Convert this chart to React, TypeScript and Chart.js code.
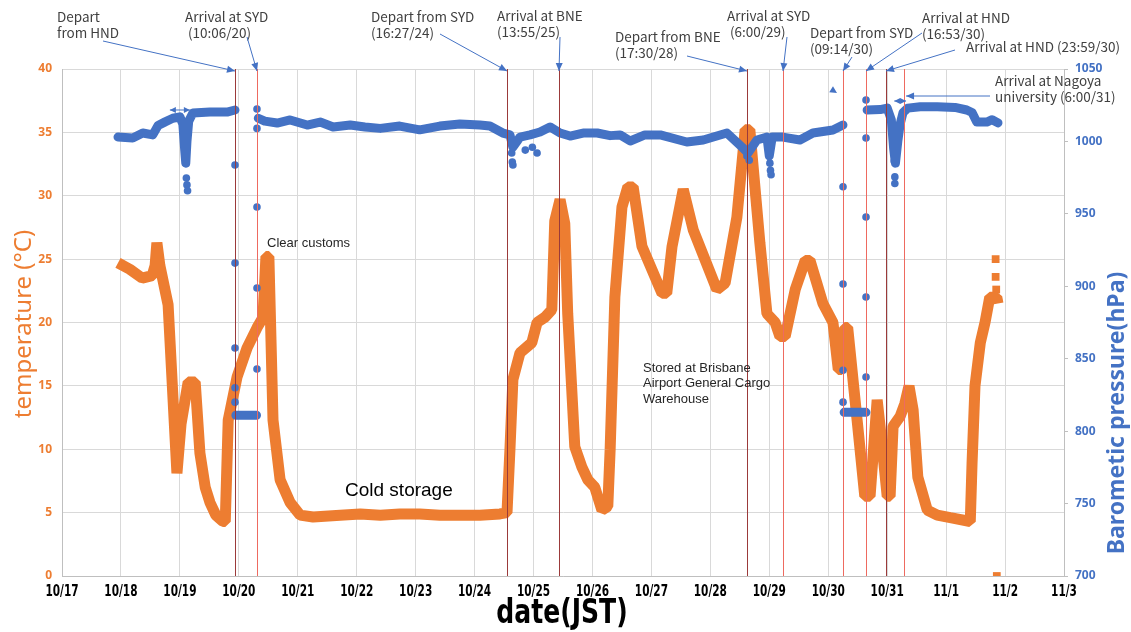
import React, { useEffect, useRef } from "react";
import { Chart, registerables } from "chart.js";

Chart.register(...registerables);

// ---------- data ----------
const dateLabels = [
  "10/17", "10/18", "10/19", "10/20", "10/21", "10/22", "10/23", "10/24", "10/25",
  "10/26", "10/27", "10/28", "10/29", "10/30", "10/31", "11/1", "11/2", "11/3",
];

// days since 10/17 00:00 (JST)
const tempDays = [
  0.95, 1.15, 1.36, 1.53, 1.58, 1.61, 1.66, 1.8, 1.95, 2.02, 2.14, 2.26, 2.34, 2.43, 2.51,
  2.61, 2.73, 2.77, 2.82, 2.97, 3.14, 3.31, 3.41, 3.46, 3.51, 3.58, 3.7, 3.87, 4.04, 4.26,
  4.72, 5.06, 5.4, 5.73, 6.07, 6.41, 6.75, 7.09, 7.43, 7.55, 7.6, 7.65, 7.77, 7.97, 8.06,
  8.19, 8.31, 8.36, 8.45, 8.53, 8.58, 8.7, 8.82, 8.92, 9.04, 9.16, 9.26, 9.3, 9.38, 9.5,
  9.6, 9.69, 9.84, 10.18, 10.26, 10.35, 10.54, 10.71, 11.11, 11.25, 11.45, 11.59, 11.67,
  11.84, 11.96, 12.1, 12.18, 12.27, 12.44, 12.61, 12.69, 12.91, 13.08, 13.17, 13.23, 13.28,
  13.33, 13.49, 13.62, 13.71, 13.83, 13.91, 14.0, 14.05, 14.1, 14.22, 14.3, 14.37, 14.44,
  14.52, 14.68, 14.85, 15.07, 15.41, 15.44, 15.49, 15.58, 15.66, 15.74, 15.86, 15.88,
];
const tempValues = [
  24.7, 24.2, 23.5, 23.7, 24.5, 26.3, 24.5, 21.4, 8.1, 12, 15.3, 15.3, 9.7, 7, 5.8,
  4.8, 4.3, 4.3, 12.3, 15.7, 18, 19.6, 20.4, 25.2, 25.2, 12.3, 7.6, 5.8, 4.8, 4.65,
  4.8, 4.9, 4.8, 4.9, 4.9, 4.8, 4.8, 4.8, 4.9, 5, 10, 15.5, 17.6, 18.4, 20,
  20.4, 21, 28, 29.7, 27.8, 20.7, 10.2, 8.6, 7.6, 7, 5.2, 5.5, 10, 22, 29.1,
  30.7, 30.7, 26, 22.3, 22.3, 26, 30.5, 27.3, 22.6, 23.1, 28.3, 35.2, 35.2,
  26.3, 20.7, 20, 18.9, 18.9, 22.6, 24.9, 24.9, 21.5, 20, 16.3, 16.3, 19.6,
  19.6, 12.3, 6.3, 6.3, 13.9, 10.5, 6.3, 6.3, 11.8, 12.6, 13.6, 15, 13.1,
  7.8, 5.2, 4.8, 4.6, 4.3, 8.9, 15, 18.4, 20, 22, 22, 21.5,
];
const tempExtraDays = [15.84, 15.84, 15.85, 15.86];
const tempExtraValues = [25, 23.6, 22.6, 0];

// continuous pressure trace (null = break in the trace)
const pressureDays = [
  0.95, 1.2, 1.37, 1.54, 1.63, 1.75, 1.88, 2.0, 2.05, 2.08, 2.1, 2.12, 2.15, 2.22, 2.51, 2.8, 2.935,
  2.94,
  2.95, 3.3,
  3.31,
  3.33, 3.44, 3.65, 3.87, 4.16, 4.38, 4.6, 4.89, 5.14, 5.4, 5.73, 6.07, 6.41, 6.75, 7.09, 7.26,
  7.48, 7.6, 7.65, 7.72, 7.77, 7.94, 8.11, 8.28, 8.45, 8.62, 8.84, 9.08, 9.3, 9.47, 9.64, 9.89,
  10.15, 10.6, 10.88, 11.28, 11.54, 11.64, 11.79, 11.96, 12.0, 12.05, 12.23, 12.52, 12.74, 13.08, 13.25,
  13.26,
  13.27, 13.64,
  13.65,
  13.66, 13.88, 14.0, 14.07, 14.11, 14.14, 14.18, 14.22, 14.27, 14.35, 14.56, 14.85, 15.15, 15.35,
  15.44, 15.52, 15.69, 15.78, 15.88,
];
const pressureValues = [
  1003, 1002.4, 1005.8, 1004.5, 1011, 1013.5, 1016, 1017, 1012, 995, 985, 1000, 1014, 1019.6, 1020.3, 1020.3, 1021.7,
  null,
  811, 811,
  null,
  1016, 1014, 1012.7, 1014.8, 1011.3, 1013.4, 1010, 1011.3, 1010, 1009, 1010.6, 1008, 1010.6, 1012, 1011.3, 1010.6,
  1005.8, 1004.5, 996, 1000, 1003, 1004.5, 1006.5, 1010, 1005.8, 1003.7, 1005.8, 1005.8, 1004, 1004.5, 1000.3, 1004.5,
  1004.5, 999.6, 1001, 1005.8, 996, 992, 1001, 1003, 990, 1003, 1003, 1001, 1005.8, 1007.9, 1011.3,
  null,
  813, 813,
  null,
  1021.7, 1022, 1023, 1015, 995, 985, 1000, 1012, 1020, 1023, 1024, 1024, 1023.5, 1021.7,
  1020, 1013.4, 1013.4, 1015, 1012.8,
];

// isolated pressure readings
const pressureDotDays = [
  2.09, 2.1, 2.11, 2.12, 2.13,
  2.935, 2.935, 2.935, 2.935, 2.935,
  3.308, 3.308, 3.308, 3.308, 3.308,
  7.63, 7.64, 7.65, 7.86, 7.98, 8.06,
  11.62, 11.66, 12.01, 12.02, 12.03,
  13.251, 13.251, 13.251, 13.251,
  13.641, 13.641, 13.641, 13.641, 13.641,
  14.12, 14.13, 14.13,
];
const pressureDotValues = [
  989, 985, 974.7, 970, 966,
  983.7, 916, 857.4, 830, 820,
  1022.4, 1009, 954.7, 898.8, 842.9,
  992, 985.8, 983.7, 994, 996, 992,
  990, 987, 985, 980, 977,
  968.7, 901.6, 842, 820,
  1028.6, 1002.4, 947.8, 892.6, 837.4,
  986.5, 975.5, 971,
];

// flight events (days since 10/17 00:00)
const eventDays = [2.935, 3.308, 7.55, 8.432, 11.622, 12.233, 13.251, 13.641, 13.98, 14.286];
const eventLabels = [
  ["Depart", "from HND"],
  ["Arrival at SYD", " (10:06/20)"],
  ["Depart from SYD", "(16:27/24)"],
  ["Arrival at BNE", "(13:55/25)"],
  ["Depart from BNE", "(17:30/28)"],
  ["Arrival at SYD", " (6:00/29)"],
  ["Depart from SYD", "(09:14/30)"],
  ["Arrival at HND", "(16:53/30)"],
  ["Arrival at HND (23:59/30)"],
  ["Arrival at Nagoya", "university (6:00/31)"],
];

// ---------- styles / layout ----------
const ORANGE = "#ED7D31";
const BLUE = "#4472C4";
const GRID = "#D9D9D9";
const eventTone = ["dark", "light", "dark", "dark", "dark", "light", "light", "light", "dark", "light"];
const labelPos = [
  [57, 17], [185, 17], [371, 17], [497, 16], [615, 37],
  [727, 16], [810, 33], [922, 18], [966, 47], [995, 81],
];
const arrowStart = [
  [103, 41], [247, 37], [440, 34], [560, 37], [687, 56],
  [787, 37], [852, 57], [922, 33], [955, 50], [990, 96],
];
const NARROW = '"Liberation Sans Narrow", "DejaVu Sans Condensed", "Arial Narrow", sans-serif';

function arrowHead(ctx: CanvasRenderingContext2D, x0: number, y0: number, x1: number, y1: number, len = 8, half = 3.5) {
  const a = Math.atan2(y1 - y0, x1 - x0);
  ctx.beginPath();
  ctx.moveTo(x1, y1);
  ctx.lineTo(x1 - len * Math.cos(a) + half * Math.sin(a), y1 - len * Math.sin(a) - half * Math.cos(a));
  ctx.lineTo(x1 - len * Math.cos(a) - half * Math.sin(a), y1 - len * Math.sin(a) + half * Math.cos(a));
  ctx.closePath();
  ctx.fill();
}

function arrow(ctx: CanvasRenderingContext2D, x0: number, y0: number, x1: number, y1: number) {
  ctx.beginPath();
  ctx.moveTo(x0, y0);
  ctx.lineTo(x1, y1);
  ctx.stroke();
  arrowHead(ctx, x0, y0, x1, y1);
}

function narrowText(ctx: CanvasRenderingContext2D, text: string, x: number, y: number, sx: number) {
  ctx.save();
  ctx.translate(x, y);
  ctx.scale(sx, 1);
  ctx.fillText(text, 0, 0);
  ctx.restore();
}

const overlay = {
  id: "overlay",
  afterDatasetsDraw(chart: any) {
    const { ctx, chartArea, scales } = chart;
    const xs = scales.x;
    const yp = scales.y1;
    ctx.save();
    // event lines
    eventDays.forEach((d, i) => {
      const px = Math.round(xs.getPixelForValue(d)) + 0.5;
      ctx.strokeStyle = eventTone[i] === "dark" ? "#9B3A3A" : "#EE6A60";
      ctx.lineWidth = 1;
      ctx.beginPath();
      ctx.moveTo(px, chartArea.top);
      ctx.lineTo(px, chartArea.bottom);
      ctx.stroke();
    });
    // small double arrows marking short intervals
    ctx.strokeStyle = BLUE;
    ctx.fillStyle = BLUE;
    ctx.lineWidth = 1;
    const dbl = [[1.83, 2.17, 1021.7], [14.12, 14.32, 1027.9]];
    dbl.forEach(([a, b, p]) => {
      const x0 = xs.getPixelForValue(a), x1 = xs.getPixelForValue(b), y = yp.getPixelForValue(p);
      ctx.beginPath();
      ctx.moveTo(x0, y);
      ctx.lineTo(x1, y);
      ctx.stroke();
      arrowHead(ctx, x1, y, x0, y, 6, 3);
      arrowHead(ctx, x0, y, x1, y, 6, 3);
    });
    ctx.restore();
  },
  afterDraw(chart: any) {
    const { ctx, chartArea, scales } = chart;
    const xs = scales.x;
    ctx.save();
    // x tick labels (condensed)
    ctx.fillStyle = "#000";
    ctx.textAlign = "center";
    ctx.textBaseline = "middle";
    ctx.font = "bold 15px " + NARROW;
    dateLabels.forEach((t, i) => narrowText(ctx, t, xs.getPixelForValue(i), chartArea.bottom + 16, 0.78));

    // event annotations
    ctx.font = '13.5px "Noto Sans CJK JP", "Noto Sans", sans-serif';
    ctx.fillStyle = "#404040";
    ctx.textBaseline = "middle";
    ctx.textAlign = "left";
    eventLabels.forEach((lines, i) => {
      const [lx, ly] = labelPos[i];
      lines.forEach((t, j) => ctx.fillText(t, lx, ly + j * 15.5));
    });
    ctx.strokeStyle = BLUE;
    ctx.fillStyle = BLUE;
    ctx.lineWidth = 1;
    eventDays.forEach((d, i) => {
      const [sx, sy] = arrowStart[i];
      const tx = xs.getPixelForValue(d);
      const ty = i === 9 ? sy : chartArea.top + 2;
      arrow(ctx, sx, sy, tx + (i === 9 ? 2 : 0), ty);
    });
    // stray arrowhead
    arrowHead(ctx, 826, 86, 837, 93, 7, 3.5);

    // free texts
    ctx.fillStyle = "#262626";
    ctx.font = '13px "Liberation Sans", Arial, sans-serif';
    ctx.fillText("Clear customs", 267, 243);
    ctx.fillText("Stored at Brisbane", 643, 368);
    ctx.fillText("Airport General Cargo", 643, 383.5);
    ctx.fillText("Warehouse", 643, 399);
    ctx.fillStyle = "#000";
    ctx.font = '19px "Liberation Sans", Arial, sans-serif';
    ctx.fillText("Cold storage", 345, 491);

    // axis titles
    ctx.textAlign = "center";
    ctx.fillStyle = ORANGE;
    ctx.font = '24px "Noto Sans", sans-serif';
    ctx.save();
    ctx.translate(24, 324);
    ctx.rotate(-Math.PI / 2);
    ctx.fillText("temperature (°C)", 0, 0);
    ctx.restore();
    ctx.fillStyle = BLUE;
    ctx.font = 'bold 23px "Noto Sans", sans-serif';
    ctx.save();
    ctx.translate(1117, 413);
    ctx.rotate(-Math.PI / 2);
    ctx.fillText("Barometic pressure(hPa)", 0, 0);
    ctx.restore();
    ctx.fillStyle = "#000";
    ctx.font = "bold 34px " + NARROW;
    narrowText(ctx, "date(JST)", 562, 614, 0.82);
    ctx.restore();
  },
};

export default function App() {
  const ref = useRef<HTMLCanvasElement>(null);
  useEffect(() => {
    if (!ref.current) return;
    const chart = new Chart(ref.current, {
      type: "scatter",
      data: {
        datasets: [
          {
            label: "pressure",
            data: pressureDays.map((d, i) => ({ x: d, y: pressureValues[i] as any })),
            yAxisID: "y1",
            showLine: true,
            spanGaps: false,
            borderColor: BLUE,
            backgroundColor: BLUE,
            borderWidth: 9,
            pointRadius: 0,
            borderCapStyle: "round",
            borderJoinStyle: "round",
          } as any,
          {
            label: "pressure readings",
            data: pressureDotDays.map((d, i) => ({ x: d, y: pressureDotValues[i] })),
            yAxisID: "y1",
            showLine: false,
            backgroundColor: BLUE,
            borderWidth: 0,
            pointRadius: 3.8,
          },
          {
            label: "temperature",
            data: tempDays.map((d, i) => ({ x: d, y: tempValues[i] })),
            yAxisID: "y",
            showLine: true,
            borderColor: ORANGE,
            backgroundColor: ORANGE,
            borderWidth: 11,
            pointRadius: 0,
            borderCapStyle: "butt",
            borderJoinStyle: "bevel",
          } as any,
          {
            label: "temperature readings",
            data: tempExtraDays.map((d, i) => ({ x: d, y: tempExtraValues[i] })),
            yAxisID: "y",
            showLine: false,
            pointStyle: "rect",
            backgroundColor: ORANGE,
            borderWidth: 0,
            pointRadius: 5.5,
          },
        ],
      },
      options: {
        animation: false,
        responsive: true,
        maintainAspectRatio: false,
        layout: { padding: { top: 69, left: 0, right: 0, bottom: 0 } },
        plugins: { legend: { display: false }, tooltip: { enabled: false } },
        scales: {
          x: {
            type: "linear",
            min: 0,
            max: 17,
            afterFit: (s: any) => { s.height = 56; },
            ticks: { stepSize: 1, autoSkip: false, display: false },
            grid: { color: GRID, lineWidth: 1, drawTicks: false },
            border: { color: "#BFBFBF" },
          },
          y: {
            position: "left",
            min: 0,
            max: 40,
            afterFit: (s: any) => { s.width = 62; },
            ticks: {
              stepSize: 5,
              padding: 10,
              color: ORANGE,
              font: { family: '"Noto Sans", sans-serif', size: 12, weight: "bold" },
            },
            grid: { color: GRID, lineWidth: 1, drawTicks: false },
            border: { color: "#BFBFBF" },
          },
          y1: {
            position: "right",
            min: 700,
            max: 1050,
            afterFit: (s: any) => { s.width = 67; },
            ticks: {
              stepSize: 50,
              padding: 7,
              color: BLUE,
              font: { family: '"Noto Sans", sans-serif', size: 12, weight: "bold" },
              callback: (v: any) => String(v),
            },
            grid: { drawOnChartArea: false, color: "#BFBFBF", tickLength: 4 },
            border: { color: "#BFBFBF" },
          },
        },
      },
      plugins: [overlay],
    });
    return () => chart.destroy();
  }, []);
  return (
    <div style={{ position: "absolute", left: 0, top: 0, width: 1131, height: 632, background: "#fff" }}>
      <canvas ref={ref} />
    </div>
  );
}
